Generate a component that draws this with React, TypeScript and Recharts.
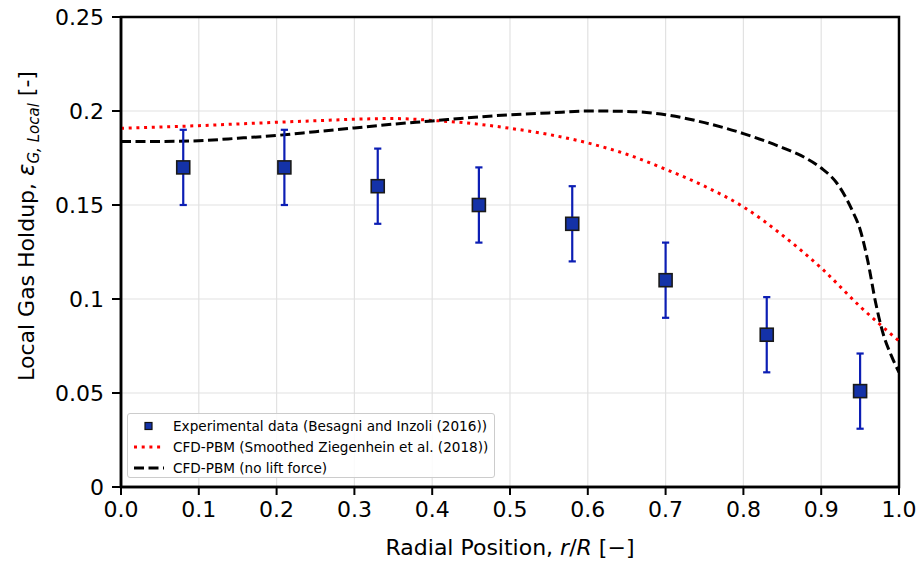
import React from "react";
import {
  ComposedChart,
  Line,
  Scatter,
  ErrorBar,
  XAxis,
  YAxis,
  CartesianGrid,
  ReferenceArea,
} from "recharts";

// Experimental data (Besagni and Inzoli (2016))
const expR = [0.08, 0.21, 0.33, 0.46, 0.58, 0.7, 0.83, 0.95];
const expHoldup = [0.17, 0.17, 0.16, 0.15, 0.14, 0.11, 0.081, 0.051];
const expErr = [0.02, 0.02, 0.02, 0.02, 0.02, 0.02, 0.02, 0.02];

// CFD-PBM (Smoothed Ziegenhein et al. (2018))
const smoothR = [0, 0.05, 0.1, 0.15, 0.2, 0.25, 0.3, 0.35, 0.4, 0.45, 0.5, 0.55, 0.6, 0.65, 0.7, 0.75, 0.8, 0.85, 0.9, 0.95, 1.0];
const smoothHoldup = [0.1908, 0.1915, 0.1922, 0.1931, 0.194, 0.1948, 0.1956, 0.196, 0.195, 0.1934, 0.1908, 0.1875, 0.183, 0.177, 0.169, 0.16, 0.149, 0.134, 0.1165, 0.096, 0.0777];

// CFD-PBM (no lift force)
const noLiftR = [0, 0.05, 0.1, 0.15, 0.2, 0.25, 0.3, 0.35, 0.4, 0.45, 0.5, 0.55, 0.6, 0.65, 0.7, 0.75, 0.8, 0.85, 0.88, 0.9, 0.92, 0.94, 0.95, 0.96, 0.97, 0.98, 0.99, 1.0];
const noLiftHoldup = [0.1838, 0.1838, 0.1842, 0.1855, 0.187, 0.189, 0.191, 0.193, 0.1947, 0.1965, 0.198, 0.199, 0.2, 0.1998, 0.198, 0.1938, 0.188, 0.1805, 0.175, 0.1697, 0.1617, 0.147, 0.137, 0.12, 0.098, 0.081, 0.07, 0.061];

const xTicks = [0, 0.1, 0.2, 0.3, 0.4, 0.5, 0.6, 0.7, 0.8, 0.9, 1.0];
const yTicks = [0, 0.05, 0.1, 0.15, 0.2, 0.25];

const seriesNames = [
  "Experimental data (Besagni and Inzoli (2016))",
  "CFD-PBM (Smoothed Ziegenhein et al. (2018))",
  "CFD-PBM (no lift force)",
];

const expData = expR.map((x, i) => ({ x, y: expHoldup[i], err: expErr[i] }));
const smoothData = smoothR.map((x, i) => ({ x, y: smoothHoldup[i] }));
const noLiftData = noLiftR.map((x, i) => ({ x, y: noLiftHoldup[i] }));

const FONT = "DejaVu Sans, Verdana, sans-serif";

const SquareMarker = (props: any) => {
  const { cx, cy } = props;
  if (cx == null || cy == null) return null;
  const s = 13;
  return (
    <rect
      x={cx - s / 2}
      y={cy - s / 2}
      width={s}
      height={s}
      fill="#1432a8"
      stroke="#1a1a1a"
      strokeWidth={1.6}
    />
  );
};

const XLabel = (props: any) => {
  const vb = props.viewBox || {};
  const cx = vb.x + vb.width / 2;
  return (
    <text x={cx} y={555} textAnchor="middle" fontFamily={FONT} fontSize={22} fill="#000">
      <tspan>Radial Position, </tspan>
      <tspan fontStyle="italic">r</tspan>
      <tspan>/</tspan>
      <tspan fontStyle="italic">R</tspan>
      <tspan> [−]</tspan>
    </text>
  );
};

const YLabel = () => {
  const cx = 34;
  const cy = 226;
  return (
    <text
      x={cx}
      y={cy}
      transform={`rotate(-90, ${cx}, ${cy})`}
      textAnchor="middle"
      fontFamily={FONT}
      fontSize={22}
      fill="#000"
    >
      <tspan>Local Gas Holdup,  </tspan>
      <tspan fontStyle="italic" fontSize={23}>ε</tspan>
      <tspan fontStyle="italic" fontSize={15} dy={5}>G, Local</tspan>
      <tspan dy={-5}> [-]</tspan>
    </text>
  );
};

const LegendBox = () => (
  <div
    style={{
      position: "absolute",
      left: 127,
      top: 413,
      width: 366,
      height: 63,
      border: "1px solid #cccccc",
      borderRadius: 3,
      background: "rgba(255,255,255,0.85)",
      fontFamily: FONT,
      fontSize: 13.6,
      color: "#000",
    }}
  >
    {seriesNames.map((name, i) => (
      <div
        key={name}
        style={{ position: "absolute", left: 0, top: 3 + i * 21, height: 18, display: "flex", alignItems: "center" }}
      >
        <svg width={45} height={18} style={{ display: "block" }}>
          {i === 0 && <rect x={17} y={5.5} width={7} height={7} fill="#1432a8" stroke="#111" strokeWidth={1.2} />}
          {i === 1 && <line x1={6} y1={9} x2={36} y2={9} stroke="#ff0000" strokeWidth={3} strokeDasharray="3 4.7" />}
          {i === 2 && <line x1={6} y1={9} x2={36} y2={9} stroke="#000" strokeWidth={3} strokeDasharray="10 4.5" />}
        </svg>
        <span style={{ whiteSpace: "nowrap" }}>{name}</span>
      </div>
    ))}
  </div>
);

export default function App() {
  return (
    <div style={{ position: "absolute", left: 0, top: 0, width: 921, height: 566, background: "#fff" }}>
      <ComposedChart width={921} height={566} margin={{ top: 17, right: 22, bottom: 0, left: 0 }}>
        <CartesianGrid stroke="#e2e2e2" strokeWidth={1.2} vertical horizontal />
        <XAxis
          type="number"
          dataKey="x"
          domain={[0, 1]}
          ticks={xTicks}
          tickFormatter={(v: number) => v.toFixed(1)}
          height={79}
          tickSize={8}
          tickMargin={6}
          axisLine={{ stroke: "#000", strokeWidth: 2.5 }}
          tickLine={{ stroke: "#000", strokeWidth: 2 }}
          tick={{ fontFamily: FONT, fontSize: 22, fill: "#000" }}
          allowDataOverflow
          label={<XLabel />}
        />
        <YAxis
          type="number"
          dataKey="y"
          domain={[0, 0.25]}
          ticks={yTicks}
          tickFormatter={(v: number) => String(Number(v.toFixed(2)))}
          width={121}
          tickSize={9}
          tickMargin={8}
          axisLine={{ stroke: "#000", strokeWidth: 2.5 }}
          tickLine={{ stroke: "#000", strokeWidth: 2 }}
          tick={{ fontFamily: FONT, fontSize: 22, fill: "#000" }}
          allowDataOverflow
          label={<YLabel />}
        />
        <ReferenceArea x1={0} x2={1} y1={0} y2={0.25} fill="none" stroke="#000" strokeWidth={2.5} ifOverflow="visible" />
        <Line
          data={smoothData}
          dataKey="y"
          type="monotone"
          stroke="#ff0000"
          strokeWidth={3}
          strokeDasharray="3 4.7"
          dot={false}
          activeDot={false}
          isAnimationActive={false}
        />
        <Line
          data={noLiftData}
          dataKey="y"
          type="monotone"
          stroke="#000"
          strokeWidth={3}
          strokeDasharray="10 4.5"
          dot={false}
          activeDot={false}
          isAnimationActive={false}
        />
        <Scatter data={expData} dataKey="y" shape={<SquareMarker />} isAnimationActive={false}>
          <ErrorBar dataKey="err" direction="y" width={3.6} stroke="#0c1eb4" strokeWidth={2.2} />
        </Scatter>
      </ComposedChart>
      <LegendBox />
    </div>
  );
}
